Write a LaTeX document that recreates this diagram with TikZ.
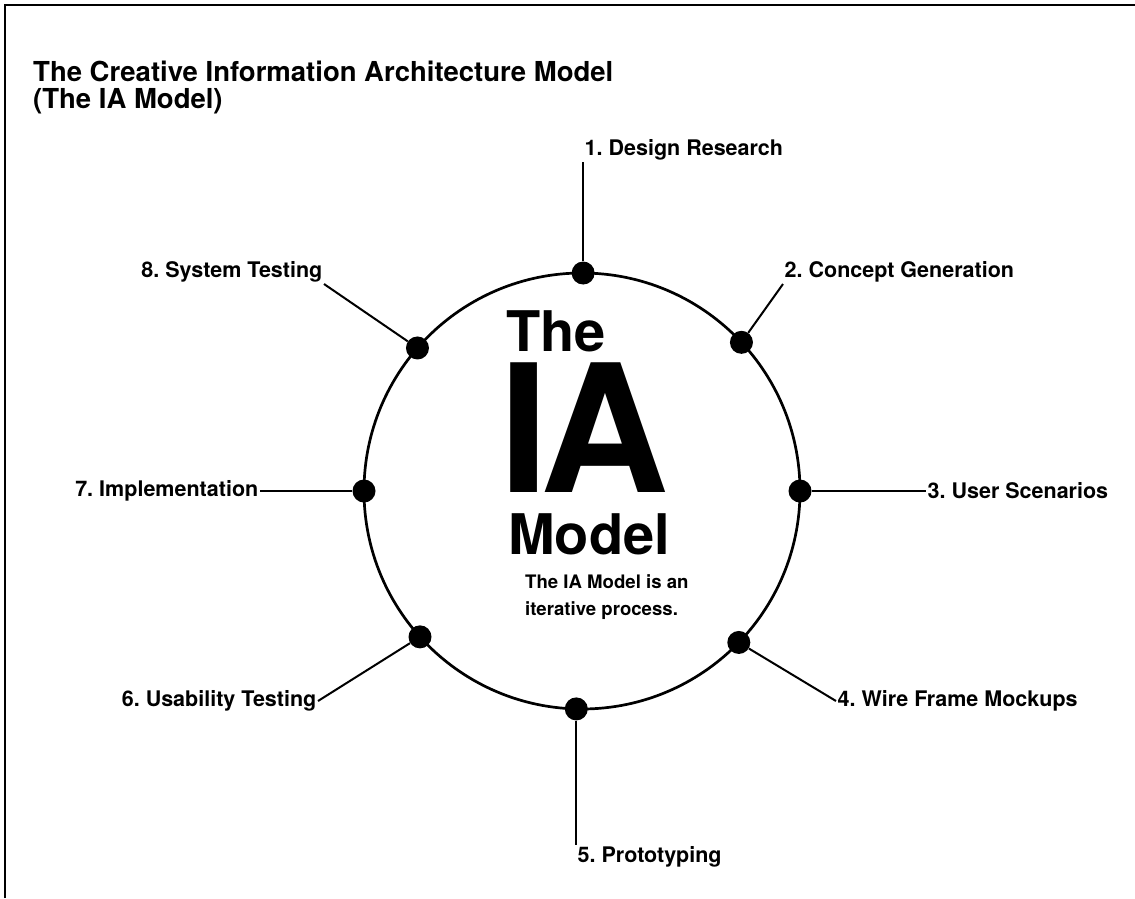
\documentclass[tikz,border=0pt]{standalone}
\usepackage{fontspec}
\setmainfont{TeX Gyre Heros}
\frenchspacing
\tikzset{
  stagedot/.style={circle,fill=black,inner sep=0pt,minimum size=23pt},
  stagelabel/.style={inner sep=1.5pt,font=\bfseries\fontsize{21.5}{26}\selectfont},
  link/.style={line width=2pt},
  bigword/.style={anchor=base west,inner sep=0pt}
}
\begin{document}
\begin{tikzpicture}[x=1pt,y=1pt]
\useasboundingbox (0,0) rectangle (1135,-898);
% frame
\draw[line width=2pt](5,-898)--(5,-5)--(1135,-5);
% heading
\node[bigword,font=\bfseries\fontsize{27.5}{30}\selectfont](title) at (33,-81){The Creative Information Architecture Model};
\node[bigword,font=\bfseries\fontsize{27.5}{30}\selectfont](subtitle) at (33,-108){(The IA Model)};
% the cycle
\coordinate (c) at (582,-491);
\draw[line width=2.7pt](c) circle(218pt);
\node[stagedot](d1) at ([shift={(89.7:218pt)}]c){};
\node[stagedot](d2) at ([shift={(43:218pt)}]c){};
\node[stagedot](d3) at ([shift={(0:218pt)}]c){};
\node[stagedot](d4) at ([shift={(316:218pt)}]c){};
\node[stagedot](d5) at ([shift={(268.5:218pt)}]c){};
\node[stagedot](d6) at ([shift={(222:218pt)}]c){};
\node[stagedot](d7) at ([shift={(180:218pt)}]c){};
\node[stagedot](d8) at ([shift={(139:218pt)}]c){};
% stages
\node[stagelabel,anchor=south west](l1) at (583,-162){1. Design Research};
\node[stagelabel,anchor=south west](l2) at (783,-284){2. Concept Generation};
\node[stagelabel,anchor=west](l3) at (926,-491){3. User Scenarios};
\node[stagelabel,anchor=west](l4) at (836,-701){4. Wire Frame Mockups};
\node[stagelabel,anchor=north west](l5) at (576,-845){5. Prototyping};
\node[stagelabel,anchor=east](l6) at (318,-701){6. Usability Testing};
\node[stagelabel,anchor=east](l7) at (260,-491){7. Implementation};
\node[stagelabel,anchor=south east](l8) at (324,-284){8. System Testing};
\draw[link](d1)--(d1|-l1.south);
\draw[link](d2)--(l2.south west);
\draw[link](d3)--(l3);
\draw[link](d4)--(l4.west);
\draw[link](d5)--(d5|-l5.north);
\draw[link](d6)--(l6.east);
\draw[link](d7)--(l7);
\draw[link](d8)--(l8.south east);
% centre
\node[bigword,font=\bfseries\fontsize{56}{60}\selectfont](the) at (506,-351){The};
\node[bigword,font=\bfseries\fontsize{178}{190}\selectfont](ia) at (499,-492){I\kern-8pt A};
\node[bigword,font=\bfseries\fontsize{56}{60}\selectfont](model) at (508,-554){Model};
\node[anchor=north west,inner sep=0pt,align=left,font=\bfseries\fontsize{18.6}{27}\selectfont](note) at (525,-574.5){The IA Model is an\\iterative process.};
\end{tikzpicture}
\end{document}
